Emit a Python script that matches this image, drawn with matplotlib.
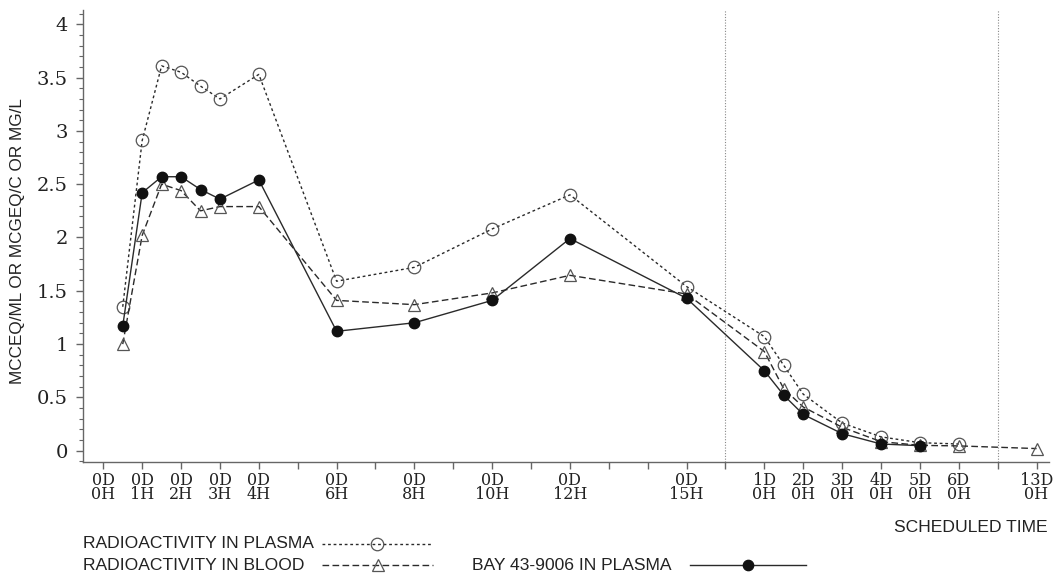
import matplotlib
matplotlib.use("Agg")
import matplotlib.pyplot as plt
from matplotlib.lines import Line2D
from matplotlib.ticker import MultipleLocator

# ---- data (x = position on the scheduled-time axis) ----
tick_pos = list(range(25))
tick_labels = {0: "0D\n0H", 1: "0D\n1H", 2: "0D\n2H", 3: "0D\n3H", 4: "0D\n4H",
               6: "0D\n6H", 8: "0D\n8H", 10: "0D\n10H", 12: "0D\n12H", 15: "0D\n15H",
               17: "1D\n0H", 18: "2D\n0H", 19: "3D\n0H", 20: "4D\n0H", 21: "5D\n0H",
               22: "6D\n0H", 24: "13D\n0H"}
break_pos = [16, 23]

plasma_x = [0.5, 1, 1.5, 2, 2.5, 3, 4, 6, 8, 10, 12, 15, 17, 17.5, 18, 19, 20, 21, 22]
plasma_y = [1.35, 2.91, 3.61, 3.55, 3.42, 3.30, 3.53, 1.59, 1.72, 2.08, 2.40, 1.54,
            1.07, 0.80, 0.53, 0.26, 0.13, 0.075, 0.063]

blood_x = [0.5, 1, 1.5, 2, 2.5, 3, 4, 6, 8, 10, 12, 15, 17, 17.5, 18, 19, 20, 21, 22, 24]
blood_y = [1.00, 2.02, 2.50, 2.44, 2.25, 2.29, 2.29, 1.41, 1.37, 1.48, 1.645, 1.47,
           0.93, 0.58, 0.41, 0.22, 0.085, 0.05, 0.045, 0.02]

bay_x = [0.5, 1, 1.5, 2, 2.5, 3, 4, 6, 8, 10, 12, 15, 17, 17.5, 18, 19, 20, 21]
bay_y = [1.17, 2.42, 2.57, 2.57, 2.45, 2.36, 2.54, 1.12, 1.20, 1.41, 1.99, 1.43,
         0.75, 0.52, 0.34, 0.16, 0.063, 0.047]

W, H = 1061, 574
fig = plt.figure(figsize=(W / 100, H / 100), dpi=100)
L, R, T, B = 83, 1049, 10, 462
ax = fig.add_axes([L / W, 1 - B / H, (R - L) / W, (B - T) / H])

line_col = "#2a2a2a"
mk_col = "#555555"
plasma_ls = (0, (2, 2))
blood_ls = (0, (4.8, 2.4))

for bp in break_pos:
    ax.axvline(bp, color="#888888", lw=0.8, ls=(0, (1, 1.5)), zorder=1)

ax.plot(plasma_x, plasma_y, ls=plasma_ls, color=line_col, lw=1.0,
        marker="o", ms=9, mfc="none", mec=mk_col, mew=0.9, zorder=3)
ax.plot(blood_x, blood_y, ls=blood_ls, color=line_col, lw=1.0,
        marker="^", ms=9, mfc="none", mec=mk_col, mew=0.9, zorder=3)
ax.plot(bay_x, bay_y, ls="-", color=line_col, lw=1.0,
        marker="o", ms=7.5, mfc="#111111", mec="#111111", zorder=4)

ax.set_xlim(-0.522, 24.32)
ax.set_ylim(-0.106, 4.134)

ax.set_xticks(tick_pos)
ax.set_xticklabels([tick_labels.get(p, "") for p in tick_pos],
                   family="DejaVu Serif", fontsize=11.5, linespacing=0.77, color="#222222")
ax.yaxis.set_major_locator(MultipleLocator(0.5))
ax.yaxis.set_minor_locator(MultipleLocator(0.1))
ax.set_yticks([0, 0.5, 1, 1.5, 2, 2.5, 3, 3.5, 4])
ax.set_yticklabels(["0", "0.5", "1", "1.5", "2", "2.5", "3", "3.5", "4"],
                   family="DejaVu Serif", fontsize=14, color="#222222")

for s in ["top", "right"]:
    ax.spines[s].set_visible(False)
for s in ["left", "bottom"]:
    ax.spines[s].set_color("#666666")
    ax.spines[s].set_linewidth(1.0)

ax.tick_params(axis="x", direction="out", length=5, width=1, color="#666666", pad=2)
ax.tick_params(axis="y", which="major", direction="out", length=5, width=1,
               color="#666666", pad=6)
ax.tick_params(axis="y", which="minor", direction="out", length=3, width=0.8,
               color="#666666")

sans = "Liberation Sans"
fig.text(18 / W, 1 - 241 / H, "MCCEQ/ML OR MCGEQ/C OR MG/L", rotation=90,
         ha="center", va="center", family=sans, fontsize=12.3, color="#222222")
fig.text(1048 / W, 1 - 527 / H, "SCHEDULED TIME", ha="right", va="center",
         family=sans, fontsize=12.6, color="#222222")

# ---- legend ----
def leg(text_x, line_x0, line_x1, y, label, ls, marker, ms, mfc, mec):
    fig.text(text_x / W, 1 - y / H, label, ha="left", va="center",
             family=sans, fontsize=12.6, color="#222222")
    yy = 1 - y / H
    fig.add_artist(Line2D([line_x0 / W, line_x1 / W], [yy, yy], transform=fig.transFigure,
                          ls=ls, color=line_col, lw=1.0))
    fig.add_artist(Line2D([(line_x0 + line_x1) / 2 / W], [yy], transform=fig.transFigure,
                          ls="none", marker=marker, ms=ms, mfc=mfc, mec=mec, mew=0.9))

leg(83, 322, 431, 544, "RADIOACTIVITY IN PLASMA", plasma_ls, "o", 9, "none", mk_col)
leg(83, 322, 433, 565, "RADIOACTIVITY IN BLOOD", blood_ls, "^", 9, "none", mk_col)
leg(472, 690, 806, 565, "BAY 43-9006 IN PLASMA", "-", "o", 7.5, "#111111", "#111111")

fig.savefig("out.png", dpi=100)
